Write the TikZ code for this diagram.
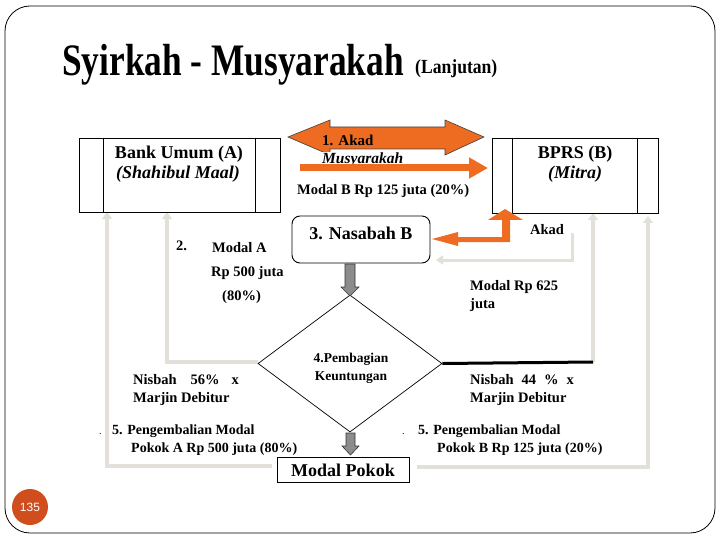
\documentclass[tikz,border=0pt]{standalone}
\usepackage{fontspec}
\setmainfont{Liberation Serif}
\setsansfont{Liberation Sans}
\usetikzlibrary{arrows.meta,shapes.geometric}
\definecolor{orng}{RGB}{238,108,34}
\definecolor{gcol}{RGB}{226,224,216}
\definecolor{pgred}{RGB}{208,78,30}
\definecolor{blk}{RGB}{140,140,140}
\tikzset{
  tx/.style={inner sep=0pt, anchor=base west, font=\bfseries\fontsize{14.5}{17}\selectfont},
  txc/.style={inner sep=0pt, anchor=base, font=\bfseries\fontsize{14.5}{17}\selectfont},
  big/.style={font=\bfseries\fontsize{18}{21}\selectfont},
  gline/.style={draw=gcol, line width=4pt},
  garrow/.style={gline, -{Triangle[length=7pt,width=10pt]}},
  blockdn/.style={fill=blk, draw=black!80, line width=0.6pt},
  thinbox/.style={draw=black, line width=0.9pt},
}
\begin{document}
\begin{tikzpicture}[x=1pt,y=-1pt]
\useasboundingbox (0,0) rectangle (720,540);
% frame
\draw[line width=0.8pt, rounded corners=25pt] (5,6) rectangle (715,533);
% title
\node[inner sep=0pt, anchor=base west] (title) at (62,76)
  {\scalebox{0.785}[1]{\bfseries\fontsize{45}{50}\selectfont Syirkah - Musyarakah}};
\node[inner sep=0pt, anchor=base west] (lanj) at (415,74)
  {\scalebox{0.88}[1]{\bfseries\fontsize{20}{24}\selectfont (Lanjutan)}};

% gray connectors (under everything)
\coordinate (gA1) at (167,212);
\coordinate (gA2) at (107,212);
\coordinate (gB1) at (593,213);
\coordinate (gB2) at (648,216);
\draw[garrow] (258,362) -- (167,362) -- (gA1);
\draw[garrow] (272,466) -- (107,466) -- (gA2);
\draw[garrow] (593,362) -- (gB1);
\draw[garrow] (417,467) -- (648,467) -- (gB2);
\draw[gcol, line width=3pt, -{Triangle[length=7pt,width=9pt]}] (572,233) -- (572,260) -- (436,260);

% boxes
\node[thinbox, minimum width=201pt, minimum height=74pt, inner sep=0pt] (bank) at (179.5,175) {};
\draw[line width=0.9pt] (103,138) -- (103,212) (255,138) -- (255,212);
\node[txc, big] (bankt1) at (179,159) {Bank Umum (A)};
\node[txc, big] (bankt2) at (178,179) {\itshape (Shahibul Maal)};

\node[thinbox, minimum width=166pt, minimum height=75pt, inner sep=0pt] (bprs) at (575,175.5) {};
\draw[line width=0.9pt] (512,138) -- (512,213) (637,138) -- (637,213);
\node[txc, big] (bprst1) at (575,159) {BPRS (B)};
\node[txc, big] (bprst2) at (575,179) {\itshape (Mitra)};

% double orange arrow
\fill[orng, draw=black!75, line width=0.6pt]
  (288,137) -- (330,120) -- (330,127) -- (445,127) -- (445,120) -- (484,137)
  -- (445,155) -- (445,149) -- (330,149) -- (330,155) -- cycle;
\node[tx, font=\bfseries\fontsize{15}{17}\selectfont] (akad1) at (322,146) {1. Akad};
\node[anchor=base west, inner xsep=1pt, inner ysep=1pt, fill=white, font=\bfseries\itshape\fontsize{15.5}{17}\selectfont] (musy) at (321,164) {Musyarakah};
% single orange arrow
\draw[orng, line width=7pt, -{Triangle[length=19pt,width=20pt]}] (300,168) -- (488,168);
\node[tx] (modalb) at (297,195) {Modal B Rp 125 juta (20\%)};

% Nasabah
\node[draw=black, line width=0.9pt, rounded corners=8pt, minimum width=138pt, minimum height=47pt, inner sep=0pt] (nas) at (361,239.5) {};
\node[txc, big] (nast) at (361,240) {3. Nasabah B};

% orange elbow arrow
\fill[orng] (432,239) -- (458,232) -- (458,237) -- (502,237) -- (502,220) -- (488,220)
  -- (505,209) -- (523,220) -- (510,220) -- (510,242) -- (458,242) -- (458,246) -- cycle;
\node[tx] (akad2) at (530,234) {Akad};

% diamond
\node[draw=black, line width=0.7pt, diamond, minimum width=184pt, minimum height=137pt, inner sep=0pt] (dia) at (350,363.5) {};
\node[txc, font=\bfseries\fontsize{13.5}{16}\selectfont] (diat1) at (351,362) {4.Pembagian};
\node[txc, font=\bfseries\fontsize{13.5}{16}\selectfont] (diat2) at (351,380) {Keuntungan};
\draw[black, line width=3pt] (dia.east) -- (593,362);

% gray block arrows down
\draw[blockdn] (345,264) -- (355,264) -- (355,287) -- (359,287) -- (350,296) -- (341,287) -- (345,287) -- cycle;
\draw[blockdn] (346,433) -- (355,433) -- (355,446) -- (359,446) -- (350.5,455) -- (342,446) -- (346,446) -- cycle;

% modal pokok
\node[thinbox, minimum width=132pt, minimum height=25pt, inner sep=0pt] (mp) at (343,469.5) {};
\node[txc, big] (mpt) at (343,476) {Modal Pokok};

% left texts
\node[tx] (t2) at (176,251) {2.};
\node[tx] (tmA) at (212,252) {Modal A};
\node[tx] (trp) at (211,276) {Rp 500 juta};
\node[tx] (t80) at (222,300) {(80\%)};
\node[tx] (n56) at (133,384) {Nisbah\hspace{14pt}56\%\hspace{12pt}x};
\node[tx] (mj1) at (133,402) {Marjin Debitur};
\node[tx, font=\fontsize{10}{12}\selectfont] (dot1) at (99,434) {.};
\node[tx, font=\bfseries\fontsize{14}{17}\selectfont] (p5a) at (112,434) {5. Pengembalian Modal};
\node[tx, font=\bfseries\fontsize{14}{17}\selectfont] (p5b) at (131,452) {Pokok A Rp 500 juta (80\%)};

% right texts
\node[tx] (m625) at (470,290) {Modal Rp 625};
\node[tx] (juta) at (470,308) {juta};
\node[tx] (n44) at (470,384) {Nisbah\hspace{8pt}44\hspace{8pt}\%\hspace{8pt}x};
\node[tx] (mj2) at (470,402) {Marjin Debitur};
\node[tx, font=\fontsize{10}{12}\selectfont] (dot2) at (402,434) {.};
\node[tx, font=\bfseries\fontsize{14}{17}\selectfont] (p5c) at (418,434) {5. Pengembalian Modal};
\node[tx, font=\bfseries\fontsize{14}{17}\selectfont] (p5d) at (437,452) {Pokok B Rp 125 juta (20\%)};

% page number
\node[circle, fill=pgred, minimum size=36pt, inner sep=0pt, text=white, font=\sffamily\fontsize{12}{14}\selectfont] (pg) at (30,507) {135};
\end{tikzpicture}
\end{document}
